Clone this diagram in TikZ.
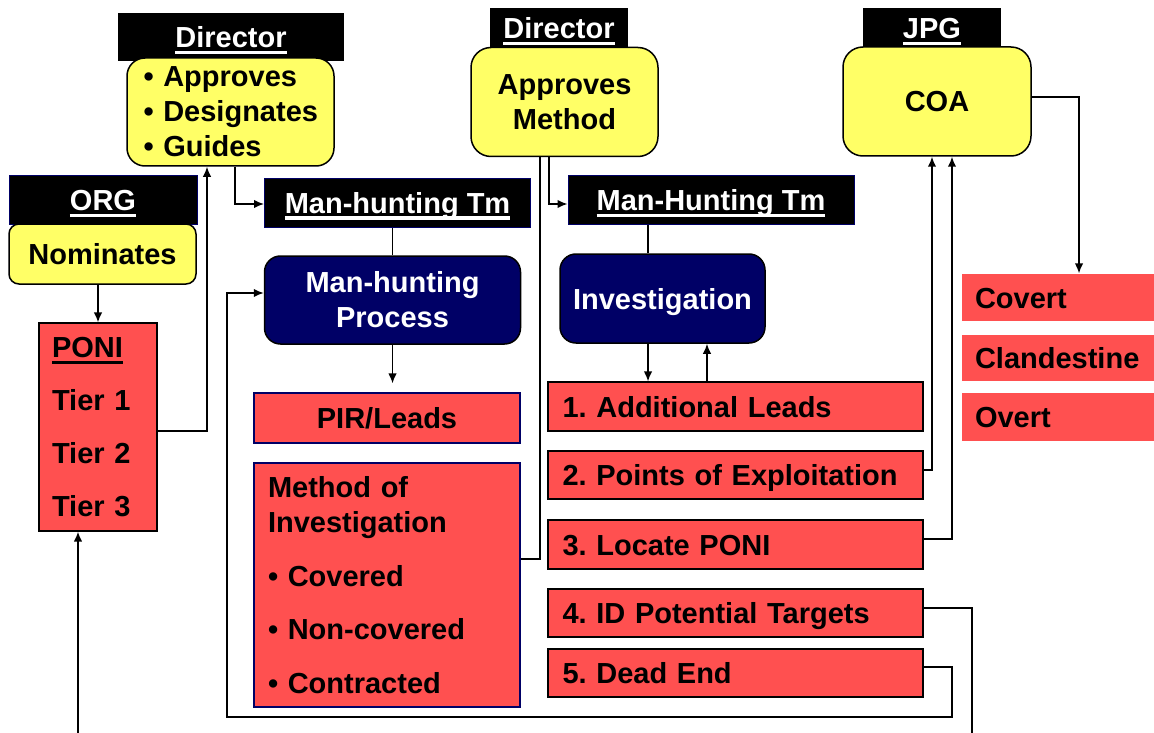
\documentclass[tikz,border=0pt]{standalone}
\usepackage{fontspec}
\usetikzlibrary{arrows.meta}
\setmainfont{Liberation Sans}
\frenchspacing
\definecolor{hdyellow}{RGB}{255,255,102}
\definecolor{hdred}{RGB}{255,80,80}
\definecolor{hdnavy}{RGB}{0,0,102}
\newcommand{\hdul}[1]{\setbox0=\hbox{#1}\rlap{\smash{\rule[-6.5pt]{\wd0}{3.2pt}}}\box0}
\begin{document}
\begin{tikzpicture}[x=1pt,y=-1pt,>={Latex[length=10pt,width=8.5pt]},
            every node/.style={font=\fontsize{29pt}{35pt}\selectfont\bfseries,inner sep=0pt},
            hdr/.style={fill=black,text=white,text height=21pt,text depth=0pt},
            ybox/.style={fill=hdyellow,draw=black,line width=1.5pt,rounded corners=18pt},
            nbox/.style={fill=hdnavy,draw=black,text=white,line width=1.5pt,rounded corners=16pt},
            rbox/.style={fill=hdred,draw=black,line width=1.2pt},
            capline/.style={text height=21pt,text depth=0pt},
            conn/.style={line width=1.6pt}]
            \useasboundingbox (0,0) rectangle (1154,733);
            \node [hdr,minimum width=226pt,minimum height=48pt] (dirAh) at (231,37) {\hdul{Director}};
            \node [ybox,minimum width=207pt,minimum height=108pt,text width=174pt,inner xsep=16.5pt,align=left] (dirA) at (230.5,112) {\mbox{• Approves}\\\mbox{• Designates}\\\mbox{• Guides}};
            \node [hdr,draw=hdnavy,line width=1pt,minimum width=188pt,minimum height=49pt] (orgh) at (103,200) {\hdul{ORG}};
            \node [ybox,rounded corners=10pt,minimum width=187pt,minimum height=60pt] (nom) at (102.5,254) {Nominates};
            \node [rbox,minimum height=208pt,text width=92pt,inner xsep=13pt,align=left] (poni) at (98,427) {\hdul{PONI}\\[17.7pt]Tier 1\\[17.7pt]Tier 2\\[17.7pt]Tier 3};
            \node [hdr,draw=hdnavy,line width=1pt,minimum width=266pt,minimum height=49pt] (mhtAh) at (397.5,202.5) {\hdul{Man-hunting Tm}};
            \node [nbox,minimum width=256pt,minimum height=88pt,align=center] (mhp) at (392.5,300) {Man-hunting\\Process};
            \node [rbox,draw=hdnavy,capline,minimum width=266pt,minimum height=50pt] (pir) at (387,418) {PIR/Leads};
            \node [rbox,draw=hdnavy,minimum height=244pt,text width=238pt,inner xsep=14pt,align=left] (moi) at (387,585) {Method of\\Investigation\\[19pt]• Covered\\[18pt]• Non-covered\\[19pt]• Contracted};
            \node [hdr,minimum width=138pt,minimum height=40pt] (dirBh) at (559,28) {\hdul{Director}};
            \node [ybox,rounded corners=20pt,minimum width=187pt,minimum height=109pt,align=center] (dirB) at (564.5,102) {Approves\\Method};
            \node [hdr,draw=hdnavy,line width=1pt,minimum width=286pt,minimum height=49pt] (mhtBh) at (711,200) {\hdul{Man-Hunting Tm}};
            \node [nbox,capline,minimum width=205pt,minimum height=89pt] (inv) at (662.5,298.5) {Investigation};
            \node [rbox,capline,minimum height=49pt,text width=346pt,inner xsep=14.5pt,align=left] (lA) at (735.5,406.5) {1. Additional Leads};
            \node [rbox,capline,minimum height=48pt,text width=346pt,inner xsep=14.5pt,align=left] (lB) at (735.5,475) {2. Points of Exploitation};
            \node [rbox,capline,minimum height=49pt,text width=346pt,inner xsep=14.5pt,align=left] (lC) at (735.5,544.5) {3. Locate PONI};
            \node [rbox,capline,minimum height=48pt,text width=346pt,inner xsep=14.5pt,align=left] (lD) at (735.5,613) {4. ID Potential Targets};
            \node [rbox,capline,minimum height=48pt,text width=346pt,inner xsep=14.5pt,align=left] (lE) at (735.5,673) {5. Dead End};
            \node [hdr,minimum width=138pt,minimum height=40pt] (jpgh) at (932,28) {\hdul{JPG}};
            \node [ybox,rounded corners=20pt,capline,minimum width=188pt,minimum height=109pt] (coa) at (937,101.5) {COA};
            \node [rbox,draw=none,capline,minimum height=47pt,text width=166pt,inner xsep=13pt,align=left] (cov) at (1058,297.5) {Covert};
            \node [rbox,draw=none,capline,minimum height=46pt,text width=166pt,inner xsep=13pt,align=left] (cla) at (1058,358) {Clandestine};
            \node [rbox,draw=none,capline,minimum height=48pt,text width=166pt,inner xsep=13pt,align=left] (ove) at (1058,417) {Overt};
            \coordinate (invin) at ([xshift=-14.5pt]inv.north);
            \coordinate (invup) at ([xshift=44.5pt]inv.south);
            \coordinate (endD) at (972,733);
            \coordinate (loopR) at (952,717);
            \coordinate (loopL) at (227,717);
            \coordinate (startP) at (78,733);
            \draw [conn,->] (nom.south -| poni.north) -- (poni.north);
            \draw [conn,->] ([yshift=-4pt]poni.east) -| ([xshift=-23.5pt]dirA.south);
            \draw [conn,->] ([xshift=4.5pt]dirA.south) |- ([yshift=-1.5pt]mhtAh.west);
            \draw [conn] (mhp.north) -- (mhp.north |- mhtAh.south);
            \draw [conn,->,shorten >=9pt] (mhp.south) -- (mhp.south |- pir.north);
            \draw [conn] ([yshift=26pt]moi.east) -| ([xshift=-24.5pt]dirB.south);
            \draw [conn,->] ([xshift=-15.5pt]dirB.south) |- ([yshift=-4pt]mhtBh.west);
            \draw [conn] (invin) -- (invin |- mhtBh.south);
            \draw [conn,->] (invin |- inv.south) -- (invin |- lA.north);
            \draw [conn,->] (invup |- lA.north) -- (invup);
            \draw [conn,->] ([yshift=5pt]lB.east) -| ([xshift=-5pt]coa.south);
            \draw [conn,->] ([yshift=5.5pt]lC.east) -| ([xshift=15pt]coa.south);
            \draw [conn] ([yshift=5pt]lD.east) -| (endD);
            \draw [conn,->] ([yshift=6pt]lE.east) -| (loopR) -- (loopL) |- ([yshift=7pt]mhp.west);
            \draw [conn,->] (startP) -- (startP |- poni.south);
            \draw [conn,->] ([yshift=4.5pt]coa.east) -| ([xshift=21pt]cov.north);
        \end{tikzpicture}
\end{document}
